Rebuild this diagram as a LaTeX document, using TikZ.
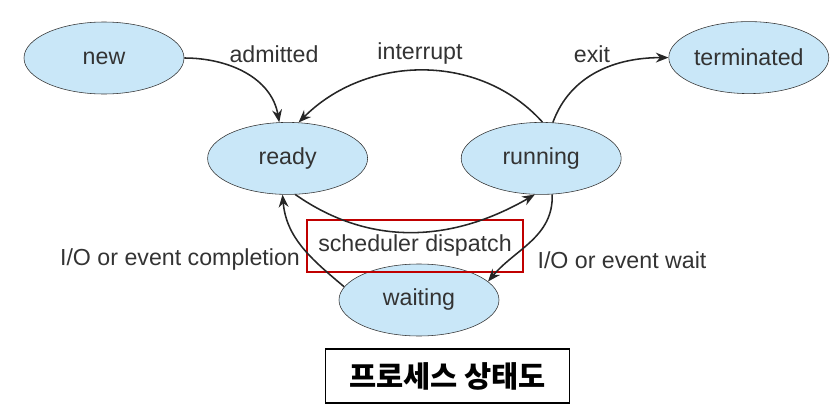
\documentclass[tikz,border=0pt]{standalone}
\usepackage{fontspec}
\setmainfont{Liberation Sans}
\newfontfamily\kofont{Noto Sans CJK KR}
\usepackage{tikz}
\usetikzlibrary{positioning}
\usetikzlibrary{shapes.geometric}
\usetikzlibrary{arrows.meta}
\definecolor{statefill}{HTML}{C9E7F8}
\definecolor{markred}{HTML}{C00000}

\begin{document}
\begin{tikzpicture}[
                          statenode/.style={ellipse, draw=black!80, fill=statefill, thin, minimum width=4cm, minimum height=1.8cm, inner sep=0pt, font=\fontsize{16.5}{20}\selectfont, text=black!80},
                          labelnode/.style={font=\fontsize{16.5}{20}\selectfont, text=black!80},
                          markbox/.style={rectangle, draw=markred, line width=1.8pt, minimum width=5.4cm, minimum height=1.3cm},
                          titlebox/.style={rectangle, draw, line width=1pt, minimum width=6.1cm, minimum height=1.35cm, font=\kofont\bfseries\fontsize{21}{24}\selectfont},
                          edge/.style={-{Stealth[length=9pt,width=7pt]}, line width=1.1pt, black!85},
                      ]
                      \useasboundingbox (0,0) rectangle (21,-10.475);
                      % Nodes
                      \node[statenode]        (new)        at (2.6,-1.45)                              {new};
                      \node[statenode]        (ready)      [on grid, below right=2.51cm and 4.59cm of new]   {ready};
                      \node[statenode]        (running)    [on grid, right=6.34cm of ready]            {running};
                      \node[statenode]        (terminated) [on grid, above right=2.52cm and 5.19cm of running] {terminated};
                      \node[statenode]        (waiting)    [on grid, below right=3.54cm and 3.285cm of ready] {waiting};

                      % Labels
                      \node[labelnode]        (admitted)   at (6.85,-1.35)    {admitted};
                      \node[labelnode]        (interrupt)  at (10.5,-1.35)    {interrupt};
                      \node[labelnode]        (exit_lbl)   at (14.8,-1.35)    {exit};
                      \node[labelnode]        (io_done)    at (4.5,-6.5)      {I/O or event completion};
                      \node[labelnode]        (io_wait)    at (15.55,-6.5)    {I/O or event wait};
                      \node[labelnode, markbox] (dispatch) at (10.375,-6.15)  {scheduler dispatch};

                      \node[titlebox]         (title)      at (11.19,-9.4)    {프로세스 상태도};

                      %Lines
                      \draw[edge] (new.east) to[out=0, in=100] (ready.103);
                      \draw[edge] (running.88) to[out=132, in=45] (ready.73);
                      \draw[edge] (running.72) to[out=70, in=180] (terminated.west);
                      \draw[edge] (ready.-78) to[out=-35, in=-150] (running.-100);
                      \draw[edge] (running.-73) to[out=-88, in=50] (waiting.15);
                      \draw[edge] (waiting.170) to[out=140, in=-85] (ready.-98);
                  \end{tikzpicture}
\end{document}
